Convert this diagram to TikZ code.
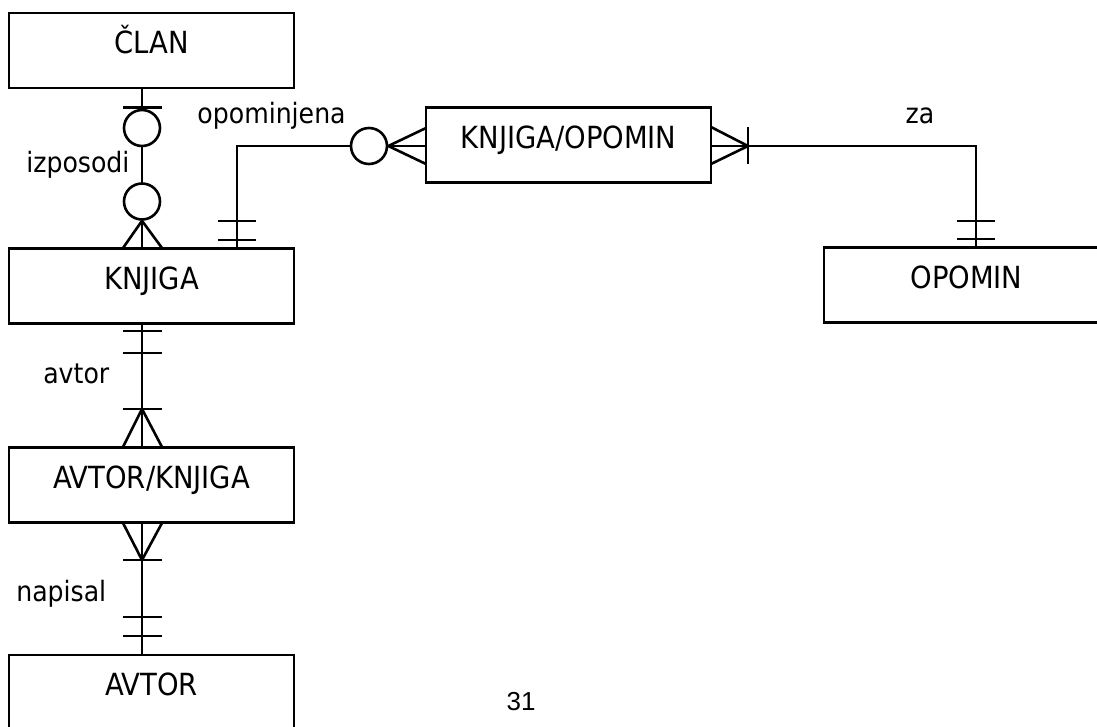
\documentclass[tikz,border=0pt]{standalone}
\usepackage{fontspec}
\setmainfont{DejaVu Sans Condensed}
\newfontfamily\numfont{Liberation Sans}
\begin{document}
\begin{tikzpicture}[x=1pt,y=-1pt, line width=2.6pt,
  entity/.style={draw, rectangle, minimum width=285pt, minimum height=75pt, inner sep=0pt,
    text height=40.5pt, text depth=34.5pt, font=\fontsize{30.5}{36}\selectfont},
  lbl/.style={font=\fontsize{28}{34}\selectfont, inner sep=0pt},
  ring/.style={circle, draw, fill=white, minimum size=36pt, inner sep=0pt}]
\useasboundingbox (0,0) rectangle (1097,726);
\clip (0,0) rectangle (1097,726);

% entities
\node[entity] (clan)   at (151.5,50.5) {ČLAN};
\node[entity] (knjiga) at (151.5,286) {KNJIGA};
\node[entity] (ak)     at (151.5,485) {AVTOR/KNJIGA};
\node[entity] (avtor)  at (151.5,692.5) {AVTOR};
\node[entity] (kopo)   at (568.5,145) {KNJIGA/OPOMIN};
\node[entity] (opomin) at (966.5,285) {OPOMIN};

\coordinate (v) at (142,0);
\coordinate (v2) at (237,0);
\coordinate (v3) at (976,0);

% CLAN - KNJIGA (izposodi)
\draw (clan.south -| v) -- (knjiga.north -| v);
\draw (123,107.5) -- (162,107.5);
\node[ring] (c1) at (142,128) {};
\node[ring] (c2) at (142,201.5) {};
\draw (c2.south) -- (123,248);
\draw (c2.south) -- (162,248);

% KNJIGA - AVTOR/KNJIGA (avtor)
\draw (knjiga.south -| v) -- (ak.north -| v);
\draw (123,331) -- (162,331);
\draw (123,353) -- (162,353);
\draw (123,409) -- (162,409);
\draw (142,409) -- (123,447);
\draw (142,409) -- (162,447);

% AVTOR/KNJIGA - AVTOR (napisal)
\draw (ak.south -| v) -- (avtor.north -| v);
\draw (123,523) -- (142,560);
\draw (162,523) -- (142,560);
\draw (123,560) -- (162,560);
\draw (123,617) -- (162,617);
\draw (123,636) -- (162,636);

% KNJIGA - KNJIGA/OPOMIN (opominjena)
\node[ring] (c3) at (369,146) {};
\draw (knjiga.north -| v2) |- (c3.west);
\draw (218,221) -- (256,221);
\draw (218,240) -- (256,240);
\draw (c3.east) -- (kopo.west |- c3);
\draw (c3.east) -- (426,128);
\draw (c3.east) -- (426,164);

% KNJIGA/OPOMIN - OPOMIN (za)
\draw (kopo.east |- c3) -| (opomin.north -| v3);
\draw (711,127) -- (748,146);
\draw (711,164) -- (748,146);
\draw (748,127) -- (748,164);
\draw (957,221) -- (995,221);
\draw (957,239) -- (995,239);

% labels
\node[lbl, anchor=base west] (l1) at (25,172) {izposodi};
\node[lbl, anchor=base west] (l2) at (42,383) {avtor};
\node[lbl, anchor=base west] (l3) at (15,601) {napisal};
\node[lbl, anchor=base east] (l4) at (347,123) {opominjena};
\node[lbl, anchor=base] (l5) at (920,123) {za};
\node[font=\numfont\fontsize{26}{30}\selectfont, anchor=base, inner sep=0pt] (pg) at (521,710) {31};
\end{tikzpicture}
\end{document}
